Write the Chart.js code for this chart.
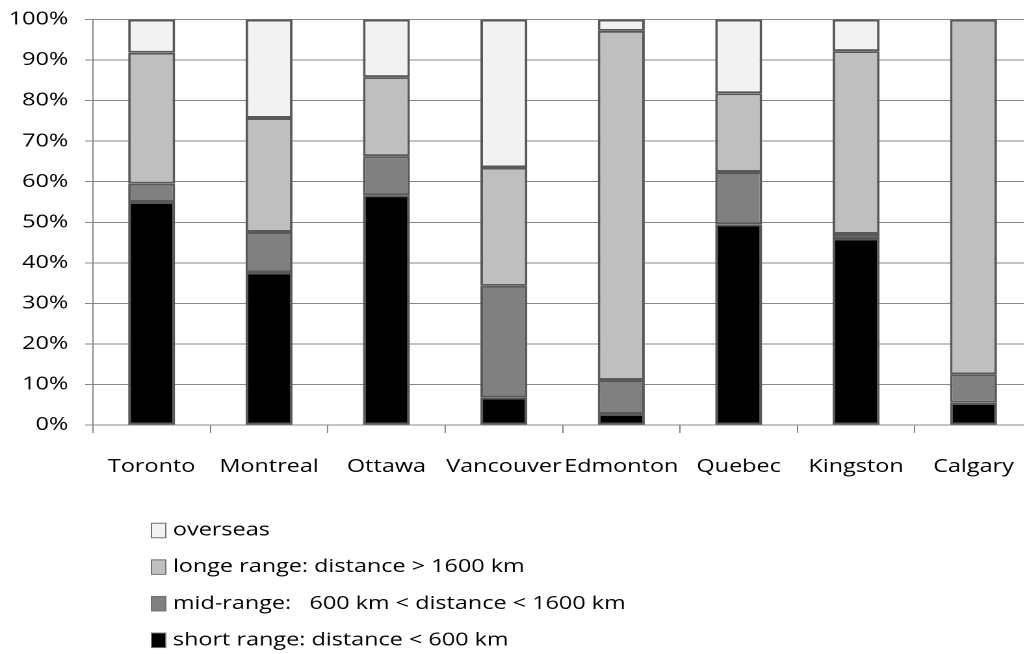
<!DOCTYPE html>
<html>
<head>
<meta charset="utf-8">
<script src="https://cdn.jsdelivr.net/npm/chart.js@4"></script>
<style>
  html, body { margin: 0; padding: 0; background: #fff; overflow: hidden; }
  #wrap { width: 1024px; height: 654px; overflow: hidden; }
  #c { display: block; }
</style>
</head>
<body>
<div id="wrap">
  <!-- drawn on an 800-unit-wide canvas and shown 1.3x wider -->
  <canvas id="c" width="800" height="654" style="width:1040px;height:654px"></canvas>
</div>
<script>
const cities = ['Toronto', 'Montreal', 'Ottawa', 'Vancouver', 'Edmonton', 'Quebec', 'Kingston', 'Calgary'];

// share of trips (%) per distance class
const shortRange = [55.0, 37.6, 56.7, 6.8, 2.7, 49.5, 46.0, 5.5];
const midRange   = [4.5, 10.0, 9.6, 27.5, 8.4, 12.9, 1.1, 7.0];
const longRange  = [32.3, 28.1, 19.5, 29.2, 86.1, 19.4, 45.1, 87.5];
const overseas   = [8.2, 24.3, 14.2, 36.5, 2.8, 18.2, 7.8, 0.0];

const seriesNames = [
  'short range: distance < 600 km',
  'mid-range:   600 km < distance < 1600 km',
  'longe range: distance > 1600 km',
  'overseas'
];
const seriesColors = ['#000000', '#808080', '#bfbfbf', '#f2f2f2'];

const FONT = { family: '"Open Sans", Lato, sans-serif', size: 18 };
const GRID = '#868686';
const EDGE = '#595959';

// vertical legend under the axis, top entry = top of the stack
const stackLegend = {
  id: 'stackLegend',
  afterDraw(chart) {
    const ctx = chart.ctx;
    const ds = chart.data.datasets;
    const boxX = 116.5, boxW = 11, boxH = 14.5, textX = 133;
    const firstY = 530.5, rowGap = 36.6;
    ctx.save();
    ctx.font = `${FONT.size}px ${FONT.family}`;
    ctx.textBaseline = 'middle';
    ctx.textAlign = 'left';
    for (let i = 0; i < ds.length; i++) {
      const d = ds[ds.length - 1 - i];
      const cy = firstY + i * rowGap;
      ctx.fillStyle = d.backgroundColor;
      ctx.fillRect(boxX, cy - boxH / 2, boxW, boxH);
      ctx.strokeStyle = '#6f6f6f';
      ctx.lineWidth = 1;
      ctx.strokeRect(boxX, cy - boxH / 2, boxW, boxH);
      ctx.fillStyle = '#000';
      ctx.fillText(d.label, textX, cy);
    }
    ctx.restore();
  }
};

const values = [shortRange, midRange, longRange, overseas];

new Chart(document.getElementById('c'), {
  type: 'bar',
  data: {
    labels: cities,
    datasets: values.map((v, i) => ({
      label: seriesNames[i],
      data: v,
      backgroundColor: seriesColors[i],
      borderColor: EDGE,
      borderWidth: 2,
      borderSkipped: false,
      categoryPercentage: 1.0,
      barPercentage: 0.4
    }))
  },
  options: {
    responsive: false,
    animation: false,
    devicePixelRatio: 2,
    layout: { padding: { top: 19.5, left: 0, right: 6, bottom: 169 } },
    plugins: { legend: { display: false }, tooltip: { enabled: false } },
    scales: {
      x: {
        stacked: true,
        grid: { drawOnChartArea: false, drawTicks: true, tickLength: 8, color: GRID, offset: true },
        border: { color: GRID },
        ticks: { color: '#000', font: FONT, padding: 23, maxRotation: 0, autoSkip: false },
        afterFit(scale) {
          scale.height = 60;
          scale.paddingLeft = 0;
          scale.paddingRight = 0;
        }
      },
      y: {
        stacked: true,
        min: 0,
        max: 100,
        grid: { color: GRID, tickLength: 6 },
        border: { color: GRID },
        ticks: { stepSize: 10, color: '#000', font: FONT, padding: 13, callback: v => v + '%' },
        afterFit(scale) {
          scale.width = 71.5;
          scale.paddingTop = 0;
          scale.paddingBottom = 0;
        }
      }
    }
  },
  plugins: [stackLegend]
});
</script>
</body>
</html>
